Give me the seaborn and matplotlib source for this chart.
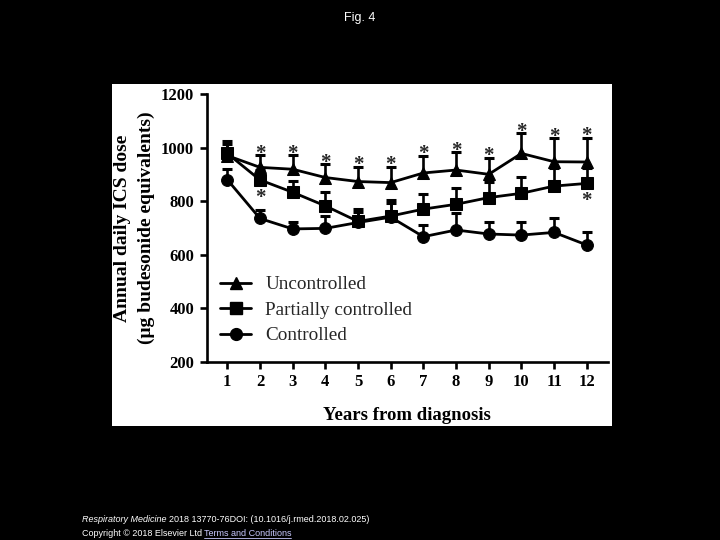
import numpy as np
import pandas as pd
import matplotlib
matplotlib.use("Agg")
import matplotlib.pyplot as plt
import seaborn as sns
from matplotlib.lines import Line2D
from matplotlib.patches import Rectangle

years = list(range(1, 13))
uncontrolled = [970, 926, 919, 888, 873, 869, 905, 916, 900, 978, 947, 946]
uncontrolled_upper = [1025, 972, 972, 938, 928, 928, 970, 982, 962, 1053, 1034, 1037]
partial = [978, 879, 833, 782, 724, 744, 770, 788, 813, 829, 856, 866]
partial_upper = [1013, 915, 876, 835, 770, 804, 826, 850, 872, 891, 925, 922]
controlled = [880, 735, 696, 698, 720, 740, 667, 692, 677, 673, 683, 636]
controlled_upper = [919, 767, 723, 744, 758, 792, 711, 757, 720, 720, 735, 683]

groups = ["Uncontrolled", "Partially controlled", "Controlled"]
markers = {"Uncontrolled": "^", "Partially controlled": "s", "Controlled": "o"}
star_above_unc = [2, 3, 4, 5, 6, 7, 8, 9, 10, 11, 12]
star_below_partial = [2, 12]

df = pd.DataFrame({
    "year": years * 3,
    "dose": uncontrolled + partial + controlled,
    "upper": uncontrolled_upper + partial_upper + controlled_upper,
    "group": [g for g in groups for _ in years],
})

sns.set_style("ticks")
serif = ["Liberation Serif", "DejaVu Serif"]

fig = plt.figure(figsize=(7.2, 5.4), dpi=100, facecolor="black")
# white panel holding the figure
fig.add_artist(Rectangle((112 / 720, 1 - 426 / 540), 500 / 720, 342 / 540,
                         transform=fig.transFigure, facecolor="white",
                         edgecolor="none", zorder=0))

ax = fig.add_axes([206.7 / 720, 1 - 361.7 / 540, 401.3 / 720, 267.7 / 540])
ax.set_facecolor("none")

# upper-only error bars with a cap at the top
ax.vlines(df["year"], df["dose"], df["upper"], color="black", linewidth=1.9, zorder=2)
ax.plot(df["year"], df["upper"], ls="none", marker="_", markersize=7.5,
        markeredgewidth=2.2, color="black", zorder=2)

sns.lineplot(data=df, x="year", y="dose", hue="group", style="group",
             palette={g: "black" for g in groups}, markers=markers, dashes=False,
             markersize=8.5, markeredgecolor="black", linewidth=2.0, ax=ax,
             legend=False, zorder=3)

for yr in star_above_unc:
    top = df[(df["group"] == "Uncontrolled") & (df["year"] == yr)]["upper"].iloc[0]
    ax.annotate("*", (yr, top), xytext=(0, 1), textcoords="offset points",
                ha="center", va="center", fontsize=15, fontweight="bold", family=serif)
for yr in star_below_partial:
    val = df[(df["group"] == "Partially controlled") & (df["year"] == yr)]["dose"].iloc[0]
    ax.annotate("*", (yr, val), xytext=(0, -13), textcoords="offset points",
                ha="center", va="center", fontsize=15, fontweight="bold", family=serif)

ax.set_xlim(0.37, 12.65)
ax.set_ylim(200, 1200)
ax.set_xticks(years)
ax.set_yticks(range(200, 1201, 200))
ax.tick_params(width=1.9, length=5, color="black", pad=4)
for lab in ax.get_xticklabels() + ax.get_yticklabels():
    lab.set_family(serif)
    lab.set_fontweight("bold")
    lab.set_fontsize(12)
    lab.set_color("black")
for s in ["left", "bottom"]:
    ax.spines[s].set_linewidth(1.9)
    ax.spines[s].set_color("black")
sns.despine(ax=ax)

ax.set_xlabel("Years from diagnosis", family=serif, fontweight="bold", fontsize=13.5,
              color="black", labelpad=12)
ax.set_ylabel("Annual daily ICS dose\n(μg budesonide equivalents)", family=serif,
              fontweight="bold", fontsize=14, color="black", labelpad=4,
              linespacing=1.55)

handles = [Line2D([], [], color="black", marker=markers[g], markersize=8.5, linewidth=2.0)
           for g in groups]
ax.legend(handles, groups, loc="center left", bbox_to_anchor=(0.01, 0.193), frameon=False,
          prop={"family": serif, "size": 13.8}, handlelength=1.6, handletextpad=0.75,
          labelspacing=0.42, borderpad=0)

fig.text(0.5, 1 - 18 / 540, "Fig. 4", color="white", ha="center", va="center",
         fontsize=9, family="Liberation Sans")
t1 = fig.text(82 / 720, 1 - 519 / 540, "Respiratory Medicine", color="white", ha="left",
              va="center", fontsize=6.5, style="italic", family="Liberation Sans")
fig.canvas.draw()
r = fig.canvas.get_renderer()
bb = t1.get_window_extent(r)
fig.text(bb.x1 / 720 + 0.003, 1 - 519 / 540, "2018 13770-76DOI: (10.1016/j.rmed.2018.02.025)",
         color="white", ha="left", va="center", fontsize=6.5, family="Liberation Sans")
t3 = fig.text(82 / 720, 1 - 533 / 540, "Copyright © 2018 Elsevier Ltd", color="white",
              ha="left", va="center", fontsize=6.5, family="Liberation Sans")
fig.canvas.draw()
bb3 = t3.get_window_extent(r)
t4 = fig.text(bb3.x1 / 720 + 0.002, 1 - 533 / 540, "Terms and Conditions", color="#c8c8ff",
              ha="left", va="center", fontsize=6.5, family="Liberation Sans")
fig.canvas.draw()
bb4 = t4.get_window_extent(r)
fig.add_artist(Line2D([bb4.x0 / 720, bb4.x1 / 720], [bb4.y0 / 540, bb4.y0 / 540],
                      color="#c8c8ff", linewidth=0.6, transform=fig.transFigure))

fig.savefig("out.png", dpi=100, facecolor="black")
